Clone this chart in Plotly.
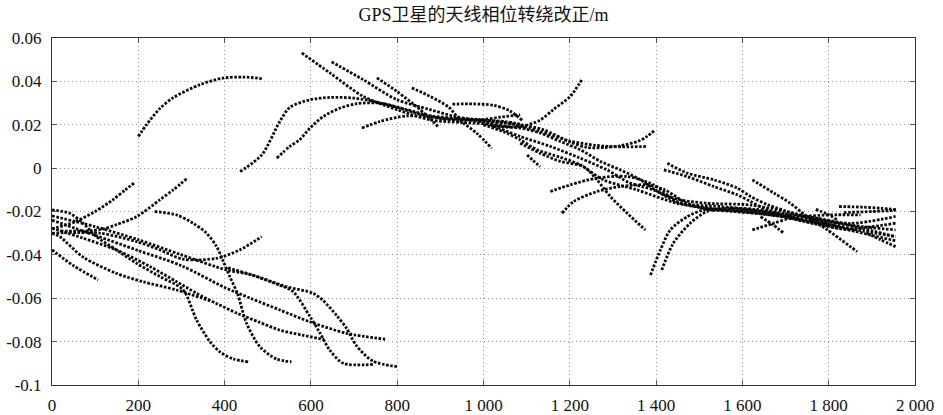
import plotly.graph_objects as go

# ---------------- data ----------------
TITLE = "GPS卫星的天线相位转绕改正/m"

X_TICK_VALUES = [0, 200, 400, 600, 800, 1000, 1200, 1400, 1600, 1800, 2000]
X_TICK_LABELS = ["0", "200", "400", "600", "800", "1 000", "1 200", "1 400", "1 600", "1 800", "2 000"]
Y_TICK_VALUES = [-0.1, -0.08, -0.06, -0.04, -0.02, 0, 0.02, 0.04, 0.06]
Y_TICK_LABELS = ["-0.1", "-0.08", "-0.06", "-0.04", "-0.02", "0", "0.02", "0.04", "0.06"]

# one satellite pass per pair of lists (epoch, correction in metres)
T01_X = [0, 50, 107]
T01_Y = [-0.0377, -0.045, -0.0516]
T02_X = [0, 18, 72, 149, 211, 289, 366]
T02_Y = [-0.030, -0.0316, -0.041, -0.0485, -0.0524, -0.0562, -0.0612]
T03_X = [0, 50, 100, 141, 170, 192]
T03_Y = [-0.028, -0.025, -0.020, -0.0146, -0.010, -0.0066]
T04_X = [20, 80, 120, 150, 196, 250, 281, 312]
T04_Y = [-0.029, -0.029, -0.028, -0.026, -0.0224, -0.0146, -0.010, -0.0049]
T05_X = [0, 111, 196, 250, 304, 381, 435, 486]
T05_Y = [-0.030, -0.030, -0.0339, -0.0377, -0.0420, -0.0416, -0.0377, -0.0316]
T06_X = [238, 289, 327, 358, 381, 397, 412, 430, 451, 482, 520, 555]
T06_Y = [-0.020, -0.0216, -0.0254, -0.030, -0.036, -0.043, -0.050, -0.058, -0.0716, -0.0824, -0.088, -0.0893]
T07_X = [0, 41, 72, 103, 149, 196, 250, 304, 335, 366, 389, 420, 455]
T07_Y = [-0.0193, -0.0208, -0.0254, -0.0316, -0.0377, -0.0439, -0.050, -0.0562, -0.070, -0.080, -0.0847, -0.088, -0.0893]
T08_X = [0, 72, 149, 227, 289, 335, 381, 430, 480, 528, 580, 630]
T08_Y = [-0.0277, -0.0323, -0.0377, -0.0454, -0.0524, -0.0577, -0.0624, -0.067, -0.071, -0.0747, -0.077, -0.079]
T09_X = [0, 100, 200, 300, 400, 460, 528, 598, 683, 772]
T09_Y = [-0.024, -0.031, -0.038, -0.045, -0.055, -0.060, -0.0654, -0.0709, -0.0762, -0.0789]
T10_X = [0, 100, 200, 300, 405, 459, 544, 605, 628, 660, 683, 706, 744, 803]
T10_Y = [-0.022, -0.027, -0.033, -0.040, -0.047, -0.049, -0.0547, -0.0577, -0.061, -0.068, -0.074, -0.082, -0.089, -0.0916]
T11_X = [408, 459, 528, 559, 598, 621, 644, 675, 745]
T11_Y = [-0.046, -0.049, -0.054, -0.057, -0.0685, -0.076, -0.084, -0.090, -0.0905]
T12_X = [200, 219, 250, 281, 343, 396, 443, 486]
T12_Y = [0.0146, 0.020, 0.0275, 0.0325, 0.0385, 0.0415, 0.042, 0.0413]
T13_X = [436, 486, 528, 551, 598, 644, 698, 745, 800, 850, 900, 950, 1000, 1050, 1090]
T13_Y = [-0.0016, 0.0061, 0.0215, 0.028, 0.0315, 0.0326, 0.0323, 0.0308, 0.028, 0.025, 0.023, 0.0225, 0.022, 0.0215, 0.020]
T14_X = [521, 551, 574, 598, 629, 668, 706, 760, 822, 880, 940, 1000, 1060]
T14_Y = [0.0046, 0.010, 0.0131, 0.0185, 0.0238, 0.0277, 0.0297, 0.030, 0.027, 0.024, 0.023, 0.0215, 0.019]
T15_X = [579, 644, 721, 799, 876, 950, 1000, 1050, 1085, 1131, 1178, 1224, 1271, 1317, 1364, 1410, 1456, 1518, 1619, 1700, 1780, 1860, 1955]
T15_Y = [0.0531, 0.0439, 0.0331, 0.027, 0.0223, 0.021, 0.0205, 0.019, 0.0185, 0.0162, 0.0123, 0.0085, 0.0031, -0.0008, -0.0054, -0.0115, -0.0146, -0.0162, -0.017, -0.020, -0.0235, -0.0265, -0.0285]
T16_X = [648, 721, 799, 876, 930, 1000, 1085, 1155, 1224, 1286, 1340, 1394, 1456, 1549, 1619, 1700, 1780, 1860, 1955]
T16_Y = [0.049, 0.0408, 0.0316, 0.027, 0.024, 0.021, 0.0146, 0.010, 0.0046, -0.0008, -0.0069, -0.010, -0.0162, -0.0177, -0.0192, -0.0215, -0.024, -0.027, -0.0316]
T17_X = [753, 799, 853, 896]
T17_Y = [0.0416, 0.0354, 0.027, 0.0189]
T18_X = [834, 876, 920, 946, 985, 1019]
T18_Y = [0.037, 0.0331, 0.028, 0.022, 0.016, 0.0092]
T20_X = [928, 975, 1023, 1060, 1090]
T20_Y = [0.0295, 0.0296, 0.029, 0.0265, 0.022]
T21_X = [718, 760, 822, 880, 940, 992, 1040, 1085]
T21_Y = [0.0185, 0.0215, 0.0241, 0.0235, 0.022, 0.0223, 0.0235, 0.0246]
T22_X = [1020, 1085, 1130, 1162, 1201, 1228]
T22_Y = [0.0195, 0.0192, 0.022, 0.027, 0.0331, 0.0408]
T23_X = [1000, 1085, 1139, 1201, 1240, 1280, 1317, 1360, 1379, 1398]
T23_Y = [0.022, 0.020, 0.0177, 0.012, 0.0095, 0.0095, 0.0103, 0.0125, 0.0146, 0.0177]
T24_X = [950, 1050, 1130, 1200, 1260, 1320, 1379]
T24_Y = [0.023, 0.021, 0.017, 0.0125, 0.0105, 0.0098, 0.010]
T25_X = [1000, 1050, 1085, 1124, 1178, 1224, 1278, 1355, 1448, 1520, 1600, 1680, 1760, 1840, 1955]
T25_Y = [0.020, 0.0165, 0.0131, 0.0085, 0.005, 0.0015, -0.0054, -0.010, -0.0162, -0.0185, -0.020, -0.022, -0.025, -0.028, -0.0254]
T26_X = [1101, 1115, 1131]
T26_Y = [0.0061, 0.0035, 0.0007]
T27_X = [1085, 1131, 1178, 1232, 1263, 1294, 1333, 1375]
T27_Y = [0.0115, 0.0069, 0.0031, 0.0007, -0.0054, -0.0131, -0.0208, -0.0285]
T28_X = [1155, 1201, 1263, 1333, 1394, 1448, 1500, 1560, 1640, 1720, 1800, 1880, 1955]
T28_Y = [-0.0108, -0.0077, -0.0046, -0.0039, -0.0077, -0.0154, -0.018, -0.0195, -0.021, -0.023, -0.026, -0.029, -0.0316]
T29_X = [1182, 1209, 1263, 1317, 1379, 1420, 1470, 1520, 1580, 1650]
T29_Y = [-0.0208, -0.0154, -0.0108, -0.0085, -0.0077, -0.010, -0.016, -0.019, -0.020, -0.021]
T30_X = [1426, 1472, 1534, 1588, 1619, 1660, 1720, 1780, 1840, 1900, 1955]
T30_Y = [0.0023, -0.0023, -0.0054, -0.0092, -0.0131, -0.017, -0.021, -0.0245, -0.028, -0.031, -0.0335]
T31_X = [1418, 1472, 1534, 1588, 1619, 1660, 1720, 1760, 1800]
T31_Y = [-0.0008, -0.0039, -0.0085, -0.0123, -0.0154, -0.0195, -0.023, -0.025, -0.026]
T32_X = [1387, 1410, 1433, 1472, 1510, 1560, 1620, 1680, 1740, 1800, 1860]
T32_Y = [-0.0493, -0.0377, -0.0285, -0.0224, -0.0193, -0.019, -0.0195, -0.0215, -0.0245, -0.027, -0.029]
T33_X = [1413, 1440, 1479, 1518, 1570, 1630, 1700, 1770, 1850, 1955]
T33_Y = [-0.047, -0.0346, -0.0254, -0.020, -0.0185, -0.019, -0.021, -0.023, -0.0255, -0.0223]
R1_X = [1623, 1673, 1711, 1750, 1797, 1866]
R1_Y = [-0.0054, -0.0115, -0.0162, -0.0224, -0.0285, -0.0385]
R2_X = [1623, 1673, 1711, 1760, 1820, 1874]
R2_Y = [-0.0285, -0.0254, -0.0231, -0.022, -0.0215, -0.0216]
R3_X = [1642, 1670, 1696]
R3_Y = [-0.0224, -0.026, -0.030]
R4_X = [1770, 1795, 1820]
R4_Y = [-0.019, -0.021, -0.0239]
R5_X = [1824, 1880, 1920, 1959]
R5_Y = [-0.0177, -0.018, -0.0185, -0.0192]
R6_X = [1835, 1900, 1955]
R6_Y = [-0.0205, -0.020, -0.0195]
R7_X = [1889, 1920, 1955]
R7_Y = [-0.030, -0.033, -0.0362]

TRACKS = [
    (T01_X, T01_Y), (T02_X, T02_Y), (T03_X, T03_Y), (T04_X, T04_Y), (T05_X, T05_Y),
    (T06_X, T06_Y), (T07_X, T07_Y), (T08_X, T08_Y), (T09_X, T09_Y), (T10_X, T10_Y),
    (T11_X, T11_Y), (T12_X, T12_Y), (T13_X, T13_Y), (T14_X, T14_Y), (T15_X, T15_Y),
    (T16_X, T16_Y), (T17_X, T17_Y), (T18_X, T18_Y), (T20_X, T20_Y), (T21_X, T21_Y),
    (T22_X, T22_Y), (T23_X, T23_Y), (T24_X, T24_Y), (T25_X, T25_Y), (T26_X, T26_Y),
    (T27_X, T27_Y), (T28_X, T28_Y), (T29_X, T29_Y), (T30_X, T30_Y), (T31_X, T31_Y),
    (T32_X, T32_Y), (T33_X, T33_Y), (R1_X, R1_Y), (R2_X, R2_Y), (R3_X, R3_Y),
    (R4_X, R4_Y), (R5_X, R5_Y), (R6_X, R6_Y), (R7_X, R7_Y),
]

# ---------------- figure ----------------
SERIF = "Liberation Serif, Times New Roman, Noto Sans CJK SC, serif"

fig = go.Figure()
for xs, ys in TRACKS:
    fig.add_trace(go.Scatter(
        x=xs, y=ys, mode="lines",
        line=dict(color="#0a0a0a", width=2.8, dash="2.6px,1.6px", shape="spline", smoothing=0.8),
        showlegend=False, hoverinfo="skip",
    ))

axis_common = dict(
    showline=True, linecolor="#333333", linewidth=1, mirror="ticks",
    ticks="inside", ticklen=5, tickcolor="#555555",
    showgrid=True, gridcolor="#9a9a9a", gridwidth=1, griddash="1px,3px",
    zeroline=False, automargin=False,
    tickfont=dict(family=SERIF, size=17, color="#111111"),
)

fig.update_layout(
    width=943, height=415,
    margin=dict(l=52, r=28, t=38, b=30),
    paper_bgcolor="white", plot_bgcolor="white",
    title=dict(text=TITLE, x=0.5, xref="paper", xanchor="center",
               y=1 - 15 / 415, yref="container", yanchor="middle", automargin=False,
               font=dict(family=SERIF, size=18, color="#111111")),
    xaxis=dict(range=[0, 2000], tickmode="array", tickvals=X_TICK_VALUES,
               ticktext=X_TICK_LABELS, ticklabelstandoff=5, **axis_common),
    yaxis=dict(range=[-0.1, 0.06], tickmode="array", tickvals=Y_TICK_VALUES,
               ticktext=Y_TICK_LABELS, ticklabelstandoff=6, **axis_common),
)

# the page's default body margin would shift the 943x415 figure; remove it
fig.write_html(
    "out.html",
    config={"displayModeBar": False, "staticPlot": True},
    post_script="document.body.style.margin='0';document.body.style.padding='0';"
                "document.documentElement.style.overflow='hidden';",
)
